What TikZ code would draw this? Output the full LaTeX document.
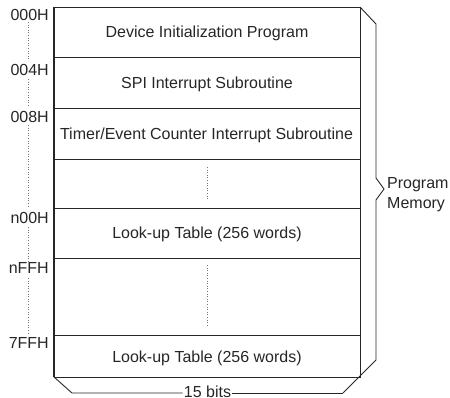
\documentclass[tikz,border=0pt]{standalone}
\usepackage{fontspec}
\setmainfont{Liberation Sans}
\begin{document}
\begin{tikzpicture}[x=1pt,y=-1pt,
  every node/.style={font=\fontsize{16}{19}\selectfont, text=black!85, inner sep=0pt},
  frame/.style={line width=0.9pt, draw=black!85},
  dots/.style={dotted, draw=black!55, line width=0.6pt},
  addr/.style={anchor=base east},
  cell/.style={anchor=base}]
\useasboundingbox (0,0) rectangle (450,398);
% box
\coordinate (tl) at (54,7);
\coordinate (tr) at (360,7);
\coordinate (bl) at (54,377);
\coordinate (br) at (360,377);
\draw[frame] (tl) -- (tr) -- (br) -- (bl);
\draw[frame, line width=1.3pt] (tl) -- (bl);
\foreach \y in {57,108,159,208,258,335}
  \draw[frame] (54,\y) -- (360,\y);
% row texts
\node[cell] (r1) at (207,37.5) {Device Initialization Program};
\node[cell] (r2) at (207,88.5) {SPI Interrupt Subroutine};
\node[cell] (r3) at (206.5,139.5) {Timer/Event Counter Interrupt Subroutine};
\node[cell] (r5) at (207,239) {Look-up Table (256 words)};
\node[cell] (r7) at (207,362) {Look-up Table (256 words)};
\draw[dots] (207,167) -- (207,200);
\draw[dots] (207,265) -- (207,327);
% addresses
\node[addr] (a0) at (49,20.5) {000H};
\node[addr] (a1) at (49,75.5) {004H};
\node[addr] (a2) at (49,122.5) {008H};
\node[addr] (a3) at (49,223.5) {n00H};
\node[addr] (a4) at (49,273.5) {nFFH};
\node[addr] (a5) at (49,348.5) {7FFH};
\draw[dots] (28,22) -- (28,61);
\draw[dots] (28,79) -- (28,107);
\draw[dots] (28,125) -- (28,206);
\draw[dots] (28,227) -- (28,262);
\draw[dots] (28,278) -- (28,333);
% right brace (3D side)
\coordinate (rt) at (376,24);
\coordinate (rb) at (376,360);
\coordinate (tip) at (384,189);
\draw[frame] (tr) -- (rt) -- (376,178) -- (tip) -- (376,200) -- (rb) -- (343,393);
\node[anchor=base west] (pm) at (387,188.5) {Program};
\node[anchor=base west] (mem) at (387,209) {Memory};
% bottom brace
\node[anchor=base] (bits) at (207.5,397.5) {15 bits};
\coordinate (bb1) at (72,393);
\coordinate (bb2) at (343,393);
\draw[frame] (bl) -- (bb1) -- ([xshift=-1pt]bits.west |- bb1);
\draw[frame] ([xshift=1pt]bits.east |- bb2) -- (bb2);
\end{tikzpicture}
\end{document}
